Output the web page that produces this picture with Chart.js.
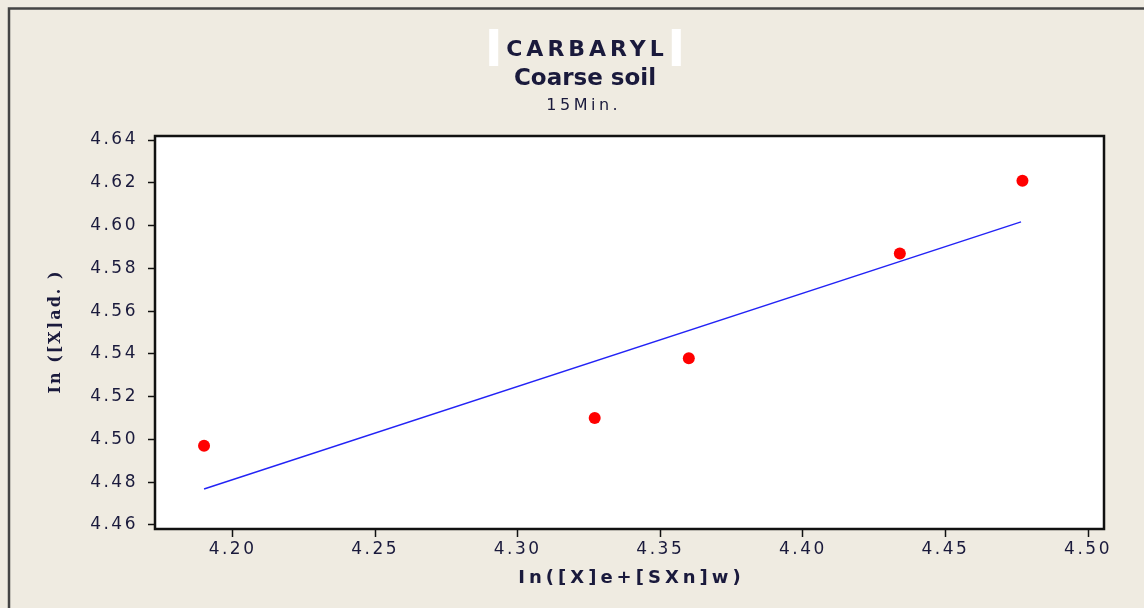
<!DOCTYPE html>
<html>
<head>
<meta charset="utf-8">
<script src="https://cdn.jsdelivr.net/npm/chart.js@4.4.1/dist/chart.umd.min.js"></script>
<style>
  html, body { margin: 0; padding: 0; background: #efebe1; }
  canvas { display: block; }
</style>
</head>
<body>
<canvas id="graph" width="1144" height="608"></canvas>
<script>
const obsX = [4.190, 4.327, 4.360, 4.434, 4.477];
const obsY = [4.497, 4.510, 4.538, 4.587, 4.621];
const fitX = [4.190, 4.4765];
const fitY = [4.4768, 4.6017];

const xTicks = [4.20, 4.25, 4.30, 4.35, 4.40, 4.45, 4.50];
const yTicks = [4.46, 4.48, 4.50, 4.52, 4.54, 4.56, 4.58, 4.60, 4.62, 4.64];

const titleLines = ['CARBARYL', 'Coarse soil', '15Min.'];
const xTitle = 'In([X]e+[SXn]w)';
const yTitle = 'In ([X]ad. )';

const INK = '#1a1a3c';
const BG = '#efebe1';

function spaced(ctx, text, x, y, font, spacing, align) {
  ctx.font = font;
  ctx.letterSpacing = spacing + 'px';
  ctx.textAlign = align || 'center';
  // canvas adds spacing after the last glyph too, shift back half of it
  ctx.fillText(text, x + (align === 'center' || !align ? spacing / 2 : 0), y);
}

const decor = {
  id: 'decor',
  beforeDraw(chart) {
    const { ctx, chartArea: a } = chart;
    ctx.save();
    ctx.fillStyle = BG;
    ctx.fillRect(0, 0, chart.width, chart.height);
    // outer frame (only left and top show)
    ctx.strokeStyle = '#444';
    ctx.lineWidth = 2.5;
    ctx.beginPath();
    ctx.moveTo(9, chart.height + 5);
    ctx.lineTo(9, 8.5);
    ctx.lineTo(chart.width + 5, 8.5);
    ctx.stroke();
    // plot background
    ctx.fillStyle = '#fff';
    ctx.fillRect(a.left, a.top, a.right - a.left, a.bottom - a.top);

    // titles
    const cx = 585;
    ctx.font = 'bold 22px "DejaVu Sans"';
    ctx.letterSpacing = '4px';
    const w = ctx.measureText(titleLines[0]).width - 4;
    ctx.fillStyle = '#fff';
    ctx.fillRect(cx - w / 2 - 17, 29, w + 34, 37);
    ctx.fillStyle = BG;
    ctx.fillRect(cx - w / 2 - 8, 29, w + 16, 37);
    ctx.fillStyle = INK;
    ctx.textBaseline = 'alphabetic';
    spaced(ctx, titleLines[0], cx, 56, 'bold 22px "DejaVu Sans"', 4);
    spaced(ctx, titleLines[1], cx, 85, 'bold 23px "DejaVu Sans"', 0);
    spaced(ctx, titleLines[2], cx - 3, 110, '16px "DejaVu Sans"', 3.5);

    // axis titles
    ctx.textBaseline = 'middle';
    spaced(ctx, xTitle, (a.left + a.right) / 2, 578, 'bold 18px "DejaVu Sans"', 4);
    ctx.translate(56, (a.top + a.bottom) / 2);
    ctx.rotate(-Math.PI / 2);
    spaced(ctx, yTitle, 0, 0, 'bold 16px "DejaVu Serif"', 2);
    ctx.restore();
    // tick labels are letter-spaced too
    ctx.letterSpacing = '2.5px';
  },
  afterDatasetsDraw(chart) {
    const { ctx, chartArea: a } = chart;
    ctx.save();
    ctx.strokeStyle = '#111';
    ctx.lineWidth = 2.5;
    ctx.strokeRect(a.left, a.top, a.right - a.left, a.bottom - a.top);
    ctx.restore();
  }
};

new Chart(document.getElementById('graph'), {
  type: 'scatter',
  plugins: [decor],
  data: {
    datasets: [
      {
        label: 'fit',
        type: 'line',
        data: fitX.map((x, i) => ({ x: x, y: fitY[i] })),
        borderColor: '#2323f5',
        borderWidth: 1.4,
        pointRadius: 0,
        fill: false
      },
      {
        label: 'data',
        data: obsX.map((x, i) => ({ x: x, y: obsY[i] })),
        backgroundColor: '#ff0000',
        borderColor: '#ff0000',
        pointRadius: 6,
        borderWidth: 0
      }
    ]
  },
  options: {
    responsive: false,
    animation: false,
    devicePixelRatio: 1,
    layout: { padding: { top: 136, right: 40, left: 0, bottom: 0 } },
    plugins: {
      legend: { display: false },
      tooltip: { enabled: false },
      title: { display: false }
    },
    scales: {
      x: {
        type: 'linear',
        min: 4.1728,
        max: 4.5056,
        afterBuildTicks: s => { s.ticks = xTicks.map(v => ({ value: v })); },
        afterFit: s => { s.height = 79; },
        grid: { drawOnChartArea: false, tickLength: 8, color: '#111', tickWidth: 1.5 },
        border: { display: false },
        ticks: {
          color: INK,
          font: { family: '"DejaVu Sans"', size: 17 },
          padding: 2,
          maxRotation: 0,
          autoSkip: false,
          callback: v => v.toFixed(2)
        }
      },
      y: {
        type: 'linear',
        min: 4.4581,
        max: 4.6419,
        afterBuildTicks: s => { s.ticks = yTicks.map(v => ({ value: v })); },
        afterFit: s => { s.width = 155; },
        grid: { drawOnChartArea: false, tickLength: 7, color: '#111', tickWidth: 1.5 },
        border: { display: false },
        ticks: {
          color: INK,
          font: { family: '"DejaVu Sans"', size: 17 },
          padding: 10,
          autoSkip: false,
          callback: v => v.toFixed(2)
        }
      }
    }
  }
});
</script>
</body>
</html>
